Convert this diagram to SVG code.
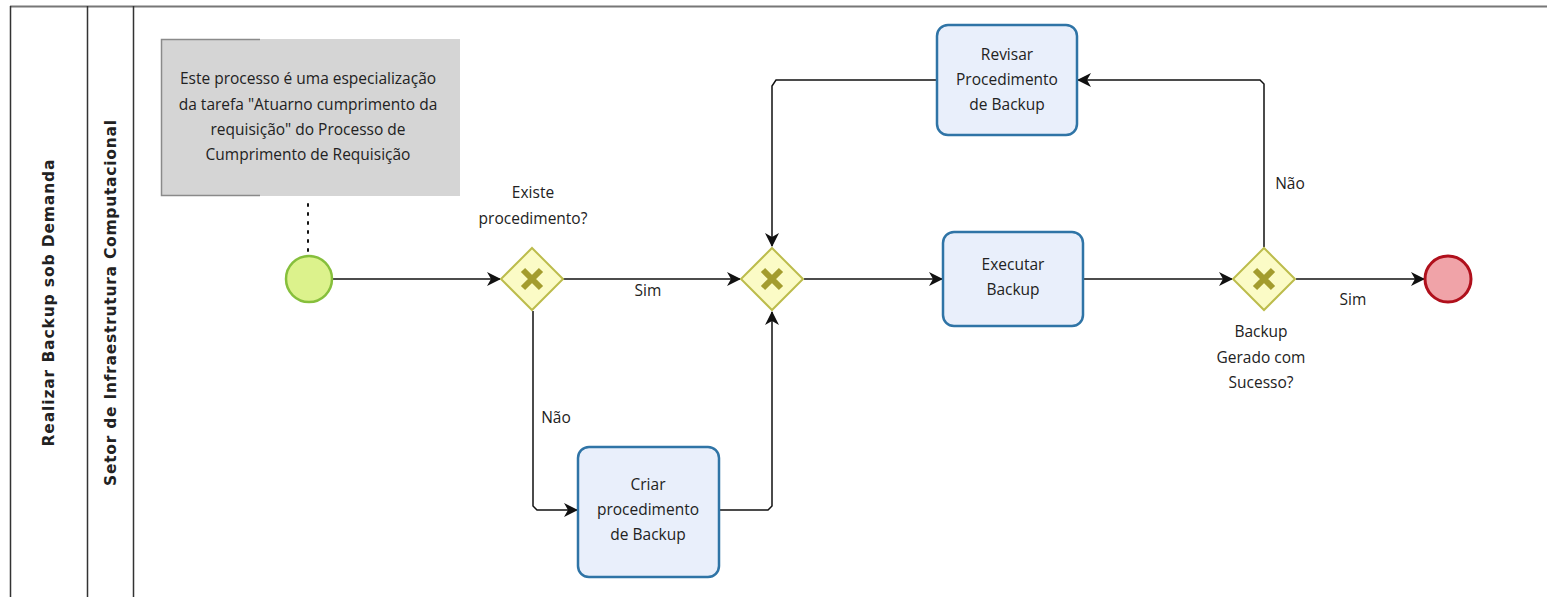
<svg xmlns="http://www.w3.org/2000/svg" width="1547" height="597" viewBox="0 0 1547 597">
<style>
.lane{fill:none;stroke:#333;stroke-width:1.5}
.lbl{font-family:"DejaVu Sans",sans-serif;font-weight:bold;font-size:15.5px;fill:#222}
.txt{font-family:"Open Sans","Liberation Sans",sans-serif;font-size:15.5px;fill:#222;text-anchor:middle}
.task{fill:#e9effb;stroke:#2f74a6;stroke-width:2.5}
.gw{fill:#fbfbc6;stroke:#bcbc4c;stroke-width:2}
.gx{stroke:#a39c2e;stroke-width:6;stroke-linecap:butt}
.flow{fill:none;stroke:#111;stroke-width:1.5}
</style>
<defs>
<marker id="ah" markerWidth="14" markerHeight="14" viewBox="0 0 14 14" refX="13" refY="7" orient="auto" markerUnits="userSpaceOnUse">
<path d="M0,0 L14,7 L0,14 L4,7 Z" fill="#111"/>
</marker>
</defs>
<rect width="1547" height="597" fill="#fff"/>
<g id="pool">
<line x1="10" y1="6.5" x2="1547" y2="6.5" stroke="#777" stroke-width="2"/>
<line class="lane" x1="10.5" y1="6" x2="10.5" y2="597"/>
<line class="lane" x1="87.5" y1="6" x2="87.5" y2="597"/>
<line class="lane" x1="133.5" y1="6" x2="133.5" y2="597"/>
<text class="lbl" transform="translate(54,303) rotate(-90)" text-anchor="middle" textLength="287" lengthAdjust="spacing">Realizar Backup sob Demanda</text>
<text class="lbl" transform="translate(116,303) rotate(-90)" text-anchor="middle" textLength="366" lengthAdjust="spacing">Setor de Infraestrutura Computacional</text>
</g>
<g id="annotation">
<rect x="161" y="39" width="299" height="157" fill="#d5d5d5"/>
<path d="M260,39.5 L161.5,39.5 L161.5,195.5 L260,195.5" fill="none" stroke="#8a8a8a" stroke-width="1.5"/>
<text class="txt" x="308" y="84">Este processo é uma especialização</text>
<text class="txt" x="308" y="110">da tarefa "Atuarno cumprimento da</text>
<text class="txt" x="308" y="135">requisição" do Processo de</text>
<text class="txt" x="308" y="160">Cumprimento de Requisição</text>
</g>
<g id="connectors">
<line x1="308" y1="204" x2="308" y2="252" stroke="#111" stroke-width="2" stroke-dasharray="2,7" stroke-linecap="round"/>
<line class="flow" x1="332" y1="279" x2="500" y2="279" marker-end="url(#ah)"/>
<line class="flow" x1="563" y1="279" x2="740" y2="279" marker-end="url(#ah)"/>
<line class="flow" x1="804" y1="279" x2="942" y2="279" marker-end="url(#ah)"/>
<line class="flow" x1="1083" y1="279" x2="1232" y2="279" marker-end="url(#ah)"/>
<line class="flow" x1="1296" y1="279" x2="1424" y2="279" marker-end="url(#ah)"/>
<path class="flow" d="M533,311 L533,506 L537,510 L577,510" marker-end="url(#ah)"/>
<path class="flow" d="M719,510 L768,510 L772,506 L772,312" marker-end="url(#ah)"/>
<path class="flow" d="M1264,247 L1264,84 L1260,80 L1078,80" marker-end="url(#ah)"/>
<path class="flow" d="M937,80 L776,80 L772,86 L772,246" marker-end="url(#ah)"/>
<text class="txt" x="648" y="296">Sim</text>
<text class="txt" x="1353" y="305">Sim</text>
<text class="txt" x="556" y="423">Não</text>
<text class="txt" x="1290" y="189">Não</text>
</g>
<g id="start">
<circle cx="309" cy="279" r="23" fill="#dcf28c" stroke="#86bf3c" stroke-width="2.5"/>
</g>
<g id="gw1">
<polygon class="gw" points="532,248 563,279 532,310 501,279"/>
<path class="gx" d="M523,270 L541,288 M541,270 L523,288"/>
<text class="txt" x="533" y="198">Existe</text>
<text class="txt" x="533" y="224">procedimento?</text>
</g>
<g id="gw2">
<polygon class="gw" points="772,248 803,279 772,310 741,279"/>
<path class="gx" d="M763,270 L781,288 M781,270 L763,288"/>
</g>
<g id="executar">
<rect class="task" x="943" y="232" width="140" height="94" rx="11"/>
<text class="txt" x="1013" y="270">Executar</text>
<text class="txt" x="1013" y="295">Backup</text>
</g>
<g id="gw3">
<polygon class="gw" points="1264,248 1295,279 1264,310 1233,279"/>
<path class="gx" d="M1255,270 L1273,288 M1273,270 L1255,288"/>
<text class="txt" x="1261" y="337">Backup</text>
<text class="txt" x="1261" y="363">Gerado com</text>
<text class="txt" x="1261" y="388">Sucesso?</text>
</g>
<g id="end">
<circle cx="1448" cy="279" r="23" fill="#f0a3a8" stroke="#b0101c" stroke-width="3"/>
</g>
<g id="revisar">
<rect class="task" x="937" y="25" width="140" height="110" rx="11"/>
<text class="txt" x="1007" y="60">Revisar</text>
<text class="txt" x="1007" y="85">Procedimento</text>
<text class="txt" x="1007" y="110">de Backup</text>
</g>
<g id="criar">
<rect class="task" x="578" y="447" width="141" height="130" rx="11"/>
<text class="txt" x="648" y="490">Criar</text>
<text class="txt" x="648" y="515">procedimento</text>
<text class="txt" x="648" y="540">de Backup</text>
</g>
</svg>
